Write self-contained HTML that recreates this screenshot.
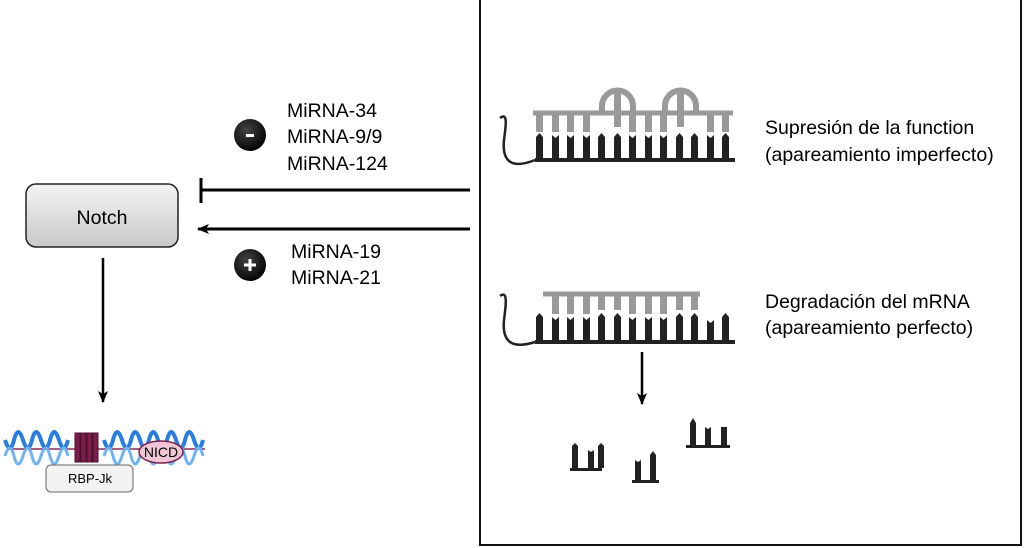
<!DOCTYPE html>
<html><head><meta charset="utf-8"><style>
body{margin:0;background:#fff;}
svg{display:block;font-family:"Liberation Sans",sans-serif;}
</style></head><body>
<svg width="1024" height="548" viewBox="0 0 1024 548">
<defs>
<linearGradient id="g" x1="0" y1="0" x2="0" y2="1"><stop offset="0" stop-color="#f4f4f4"/><stop offset="1" stop-color="#c8c8c8"/></linearGradient>
<radialGradient id="b" cx="0.4" cy="0.35" r="0.7"><stop offset="0" stop-color="#444"/><stop offset="1" stop-color="#000"/></radialGradient>
<marker id="ah" markerWidth="12" markerHeight="10" refX="11" refY="5" orient="auto" markerUnits="userSpaceOnUse"><path d="M0,0 L12,5 L0,10 L3,5 Z" fill="#000"/></marker>
</defs>
<rect x="480" y="-2" width="541" height="547" fill="none" stroke="#111" stroke-width="2"/>
<rect x="26" y="184" width="152" height="63" rx="10" fill="url(#g)" stroke="#222" stroke-width="1.5"/>
<text x="102" y="224" font-size="19.5" text-anchor="middle">Notch</text>
<line x1="103" y1="258" x2="103" y2="402" stroke="#000" stroke-width="2.5" marker-end="url(#ah)"/>
<line x1="201" y1="190" x2="470" y2="190" stroke="#000" stroke-width="3"/>
<line x1="201" y1="178" x2="201" y2="203" stroke="#000" stroke-width="3"/>
<line x1="470" y1="229" x2="198" y2="229" stroke="#000" stroke-width="3" marker-end="url(#ah)"/>
<circle cx="250" cy="135" r="16" fill="url(#b)"/>
<rect x="246" y="134" width="8" height="3" fill="#fff"/>
<circle cx="250" cy="265" r="16" fill="url(#b)"/>
<rect x="244" y="263.5" width="12" height="3" fill="#fff"/><rect x="248.5" y="259" width="3" height="12" fill="#fff"/>
<g font-size="19.5">
<text x="287" y="117">MiRNA-34</text>
<text x="287" y="143">MiRNA-9/9</text>
<text x="287" y="170">MiRNA-124</text>
<text x="291" y="258">MiRNA-19</text>
<text x="291" y="284">MiRNA-21</text>
</g>
<g font-size="19.5">
<text x="765" y="134">Supresión de la function</text>
<text x="765" y="161">(apareamiento imperfecto)</text>
<text x="765" y="308">Degradación del mRNA</text>
<text x="765" y="334">(apareamiento perfecto)</text>
</g>
<path d="M500,118 C508,112 506,125 504,140 C502,160 510,170 535,160" fill="none" stroke="#222" stroke-width="2.5"/>
<line x1="535" y1="160" x2="735" y2="160" stroke="#222" stroke-width="4"/>
<line x1="533" y1="113" x2="733" y2="113" stroke="#999" stroke-width="5"/>
<path d="M602,113 V106 A15.5,15.5 0 0 1 633,106 V113" fill="none" stroke="#999" stroke-width="6"/>
<path d="M665,113 V106 A15.5,15.5 0 0 1 696,106 V113" fill="none" stroke="#999" stroke-width="6"/>
<g fill="#999">
<rect x="536" y="113" width="7" height="19"/><rect x="552" y="113" width="7" height="19"/><rect x="567" y="113" width="7" height="19"/><rect x="583" y="113" width="7" height="19"/>
<rect x="614" y="92" width="7" height="35"/><rect x="629" y="113" width="7" height="19"/><rect x="645" y="113" width="7" height="19"/>
<rect x="677" y="92" width="7" height="35"/><rect x="707" y="113" width="7" height="19"/><rect x="722" y="113" width="7" height="19"/>
<rect x="660" y="113" width="7" height="19"/>
</g>
<g fill="#222">
<path d="M536,160V137l3.5,-4l3.5,4V160Z"/><path d="M552,160V135l3.5,3l3.5,-3V160Z"/><path d="M567,160V135l3.5,3l3.5,-3V160Z"/><path d="M583,160V135l3.5,3l3.5,-3V160Z"/>
<path d="M598,160V137l3.5,-4l3.5,4V160Z"/><path d="M614,160V137l3.5,-4l3.5,4V160Z"/><path d="M629,160V135l3.5,3l3.5,-3V160Z"/><path d="M645,160V135l3.5,3l3.5,-3V160Z"/>
<path d="M660,160V135l3.5,3l3.5,-3V160Z"/><path d="M676,160V137l3.5,-4l3.5,4V160Z"/><path d="M691,160V137l3.5,-4l3.5,4V160Z"/><path d="M707,160V135l3.5,3l3.5,-3V160Z"/><path d="M722,160V137l3.5,-4l3.5,4V160Z"/>
</g>
<path d="M500,296 C508,290 506,305 504,320 C502,340 510,350 535,342" fill="none" stroke="#222" stroke-width="2.5"/>
<line x1="535" y1="342" x2="735" y2="342" stroke="#222" stroke-width="4"/>
<line x1="543" y1="294" x2="700" y2="294" stroke="#999" stroke-width="5"/>
<g fill="#999">
<rect x="552" y="294" width="7" height="20"/><rect x="567" y="294" width="7" height="20"/><rect x="583" y="294" width="7" height="20"/><rect x="598" y="294" width="7" height="16"/><rect x="614" y="294" width="7" height="16"/><rect x="629" y="294" width="7" height="20"/><rect x="645" y="294" width="7" height="20"/><rect x="660" y="294" width="7" height="20"/><rect x="676" y="294" width="7" height="16"/><rect x="691" y="294" width="7" height="16"/>
</g>
<g fill="#222">
<path d="M536,342V317l3.5,-4l3.5,4V342Z"/><path d="M552,342V317l3.5,3l3.5,-3V342Z"/><path d="M567,342V317l3.5,3l3.5,-3V342Z"/><path d="M583,342V317l3.5,3l3.5,-3V342Z"/>
<path d="M598,342V317l3.5,-4l3.5,4V342Z"/><path d="M614,342V317l3.5,-4l3.5,4V342Z"/><path d="M629,342V317l3.5,3l3.5,-3V342Z"/><path d="M645,342V317l3.5,3l3.5,-3V342Z"/>
<path d="M660,342V317l3.5,3l3.5,-3V342Z"/><path d="M676,342V317l3.5,-4l3.5,4V342Z"/><path d="M691,342V317l3.5,-4l3.5,4V342Z"/><path d="M707,342V320l3.5,3l3.5,-3V342Z"/><path d="M722,342V317l3.5,-4l3.5,4V342Z"/>
</g>
<line x1="642" y1="352" x2="642" y2="404" stroke="#000" stroke-width="2.5" marker-end="url(#ah)"/>
<g fill="#222">
<rect x="570" y="468" width="32" height="3"/><path d="M572,468V446l3,-3l3,3V468Z"/><path d="M588,468V450l3,2l3,-2V468Z"/><path d="M598,468V446l3,-3l3,3V468Z"/>
<rect x="632" y="480" width="27" height="3"/><path d="M635,480V460l3,2l3,-2V480Z"/><path d="M650,480V455l3,-4l3,4V480Z"/>
<rect x="686" y="445" width="44" height="3"/><path d="M690,445V423l3,-5l3,5V445Z"/><path d="M705,445V427l3,2l3,-2V445Z"/><path d="M721,445V427H727V445Z"/>
</g>
<line x1="10" y1="449" x2="205" y2="449" stroke="#8a2b5a" stroke-width="1.5"/>
<path d="M5,440 Q10,456 14,440 T23,440 T32,440 T41,440 T50,440 T59,440 T68,440 M104,440 Q109,456 113,440 T122,440 T131,440 T140,440 T149,440 T158,440 T167,440 T176,440 T185,440 T194,440 T203,440" fill="none" stroke="#2a7de0" stroke-width="4"/>
<path d="M5,456 Q10,440 14,456 T23,456 T32,456 T41,456 T50,456 T59,456 T68,456 M104,456 Q109,440 113,456 T122,456 T131,456 T140,456 T149,456 T158,456 T167,456 T176,456 T185,456 T194,456 T203,456" fill="none" stroke="#6fb3f2" stroke-width="3"/>
<g fill="#7a1f4a" stroke="#4a1030" stroke-width="1"><rect x="75" y="433" width="5" height="29"/><rect x="81" y="433" width="5" height="29"/><rect x="87" y="433" width="5" height="29"/><rect x="93" y="433" width="5" height="29"/></g>
<ellipse cx="161" cy="452" rx="22" ry="11" fill="#f2c6d6" stroke="#7a1f4a" stroke-width="1.5"/>
<text x="161" y="457" font-size="14" text-anchor="middle">NICD</text>
<rect x="46" y="465" width="87" height="27" rx="5" fill="#f2f2f2" stroke="#666" stroke-width="1"/>
<text x="90" y="483" font-size="13" text-anchor="middle">RBP-Jk</text>
</svg>
</body></html>
